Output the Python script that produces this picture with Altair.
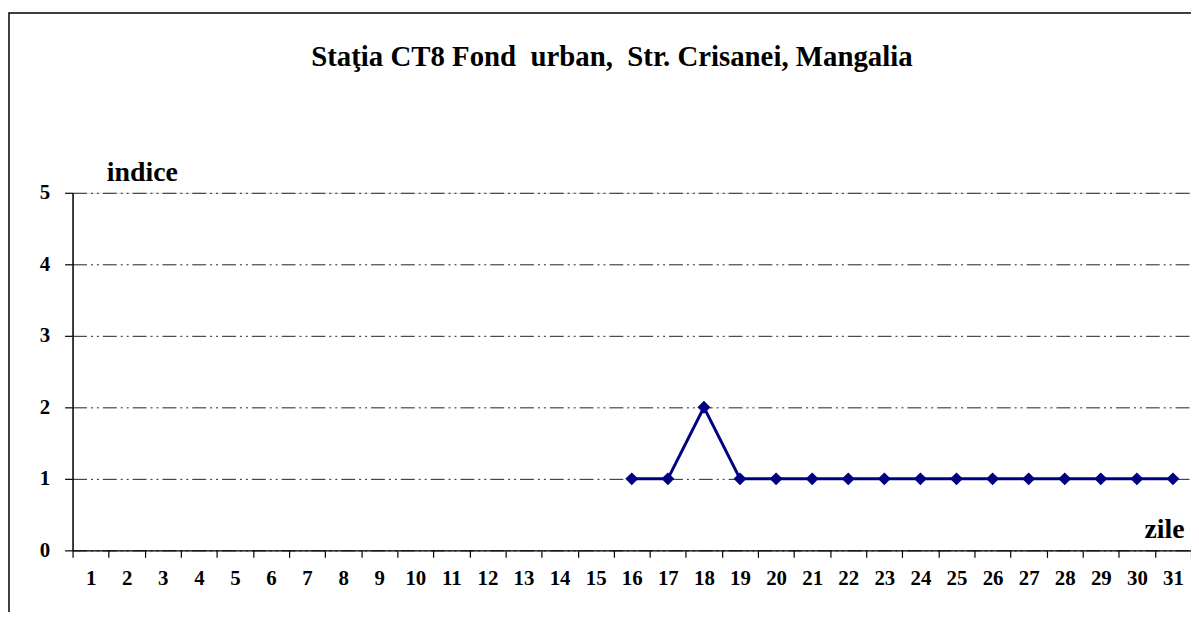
import altair as alt
import pandas as pd

days = list(range(1, 32))
values = [None] * 15 + [1, 1, 2, 1, 1, 1, 1, 1, 1, 1, 1, 1, 1, 1, 1, 1]
y_ticks = [0, 1, 2, 3, 4, 5]

title_text = "Staţia CT8 Fond\u00a0 urban,\u00a0 Str. Crisanei, Mangalia"
y_title = "indice"
x_title = "zile"

df = pd.DataFrame({"zi": days, "indice": values})

W, H = 1126, 360
FONT = "Liberation Serif"
NAVY = "#000080"

x_enc = alt.X(
    "zi:O",
    scale=alt.Scale(domain=days, paddingInner=0, paddingOuter=0),
    axis=alt.Axis(
        title=x_title,
        titleX=1119, titleY=-13, titleAlign="right", titleBaseline="alphabetic",
        titleFont=FONT, titleFontSize=28, titleFontWeight="bold", titleColor="black",
        labelAngle=0, labelFont=FONT, labelFontSize=21, labelFontWeight="bold",
        labelColor="black", labelPadding=10,
        tickBand="extent", tickSize=7, tickColor="black", tickWidth=1.2,
        domainColor="black", domainWidth=1.5, grid=False,
    ),
)
y_enc = alt.Y(
    "indice:Q",
    scale=alt.Scale(domain=[0, 5], nice=False),
    axis=alt.Axis(
        values=y_ticks, format="d",
        title=y_title,
        titleAngle=0, titleX=34, titleY=-12, titleAlign="left", titleBaseline="alphabetic",
        titleFont=FONT, titleFontSize=28, titleFontWeight="bold", titleColor="black",
        labelFont=FONT, labelFontSize=21, labelFontWeight="bold", labelColor="black",
        labelPadding=15, tickSize=8, tickColor="black", tickWidth=1.2,
        domainColor="black", domainWidth=1.5,
        grid=True, gridColor="#222222", gridWidth=1, gridDash=[14, 4, 2, 4, 2, 4],
    ),
)

line = alt.Chart(df).mark_line(color=NAVY, strokeWidth=3).encode(x=x_enc, y=y_enc)
pts = alt.Chart(df).mark_point(
    shape="diamond", filled=True, color=NAVY, size=170, opacity=1
).encode(x="zi:O", y="indice:Q")

frame = alt.Chart(pd.DataFrame({"a": [0]})).mark_rect(
    filled=False, stroke="black", strokeWidth=1.5, fill=None
).encode(
    x=alt.value(-64), x2=alt.value(W + 60),
    y=alt.value(-181), y2=alt.value(H + 200),
)

title = alt.Chart(pd.DataFrame({"t": [title_text]})).mark_text(
    font=FONT, fontSize=29, fontWeight="bold", color="black",
    align="center", baseline="alphabetic",
).encode(text="t:N", x=alt.value(543), y=alt.value(-128))

chart = alt.layer(frame, line, pts, title).properties(
    width=W, height=H,
    autosize=alt.AutoSizeParams(type="none"),
    padding={"left": 65, "top": 184, "right": 0, "bottom": 60},
).configure_view(stroke=None).configure(background="white")

chart.save("out.html", embed_options={"renderer": "svg", "actions": False})
